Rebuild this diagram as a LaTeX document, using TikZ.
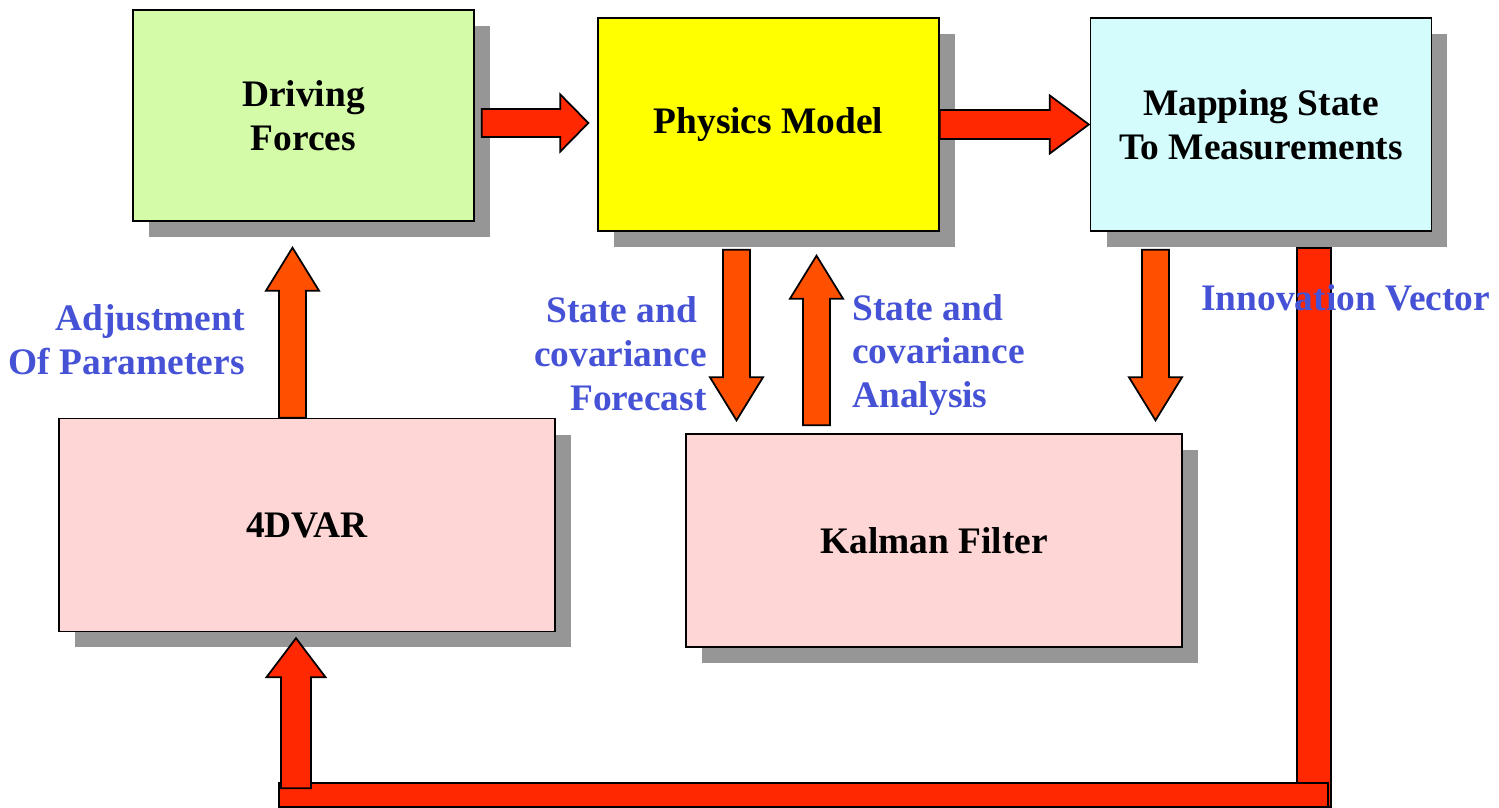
\documentclass[tikz,border=0pt]{standalone}
\usepackage{fontspec}
\setmainfont{Liberation Serif}
\usepackage{tikz}
\usetikzlibrary{positioning,calc,shadows}
\usepackage{xcolor}
\definecolor{forceGreen}{RGB}{212,252,168}
\definecolor{modelYellow}{RGB}{255,255,0}
\definecolor{mapCyan}{RGB}{212,252,252}
\definecolor{filterPink}{RGB}{255,214,214}
\definecolor{shadowGray}{RGB}{150,150,150}
\definecolor{flowRed}{RGB}{255,40,0}
\definecolor{flowOrange}{RGB}{255,80,0}
\definecolor{labelBlue}{RGB}{70,82,214}

\newcommand{\boxfont}{\fontsize{21.3}{25}\selectfont\bfseries}
% block arrow: [colour]{from}{to}{half shaft}{half head}{head length}
\newcommand{\blockarrow}[6][flowOrange]{%
  \coordinate (hb) at ($(#3)!#6!(#2)$);
  \draw[fill=#1, line width=1pt, line join=miter]
    ($(#2)!#4!90:(#3)$) -- ($(hb)!#4!90:(#3)$) -- ($(hb)!#5!90:(#3)$)
    -- (#3) -- ($(hb)!#5!-90:(#3)$) -- ($(hb)!#4!-90:(#3)$)
    -- ($(#2)!#4!-90:(#3)$) -- cycle;}

\begin{document}
\begin{tikzpicture}[
  x=0.02cm, y=-0.02cm,
  box/.style={rectangle, draw=black, line width=0.8pt, fill=#1,
              minimum width=6.82cm, minimum height=4.26cm,
              align=center, font=\boxfont,
              drop shadow={shadow xshift=0.32cm, shadow yshift=-0.32cm,
                           fill=shadowGray, opacity=1}},
  wide/.style={minimum width=9.92cm},
  lbl/.style={font=\boxfont, text=labelBlue, inner sep=0pt},
  bar/.style={draw=black, line width=1pt, fill=flowRed}
]
  \useasboundingbox (0,0) rectangle (1499,808);

  % Boxes
  \node[box=forceGreen, minimum height=4.22cm] (drive) at (303.5,115.5)
    {Driving\\Forces};
  \node[box=modelYellow] (phys) at (768.5,124.5) {Physics Model};
  \node[box=mapCyan] (map) at (1261,124.5)
    {Mapping State\\To Measurements};
  \node[box=filterPink, wide] (fdvar) at (307,525) {4DVAR};
  \node[box=filterPink, wide] (kalman) at (934,540.5) {Kalman Filter};

  % Arrow ends
  \coordinate (dfA) at ($(drive.east |- phys.west)+(7,-1.5)$);
  \coordinate (dfB) at ($(phys.west)+(-9,-1.5)$);
  \coordinate (pmA) at (phys.east);
  \coordinate (pmB) at ($(map.west)+(-1,0)$);
  \coordinate (fcA) at ($(phys.south)+(-32,18)$);
  \coordinate (fcB) at ($(kalman.north -| fcA)+(0,-13)$);
  \coordinate (anA) at ($(kalman.north -| phys.south)+(48,-8)$);
  \coordinate (anB) at ($(phys.south)+(48,24)$);
  \coordinate (inA) at ($(map.south)+(-105.5,18)$);
  \coordinate (inB) at ($(kalman.north -| inA)+(0,-13)$);
  \coordinate (adA) at ($(fdvar.north)+(-14.5,0)$);
  \coordinate (adB) at ($(drive.south -| adA)+(0,26)$);
  \coordinate (lpA) at ($(fdvar.south)+(-11,156)$);
  \coordinate (lpB) at ($(fdvar.south)+(-11,6)$);

  % Horizontal flow
  \blockarrow[flowRed]{dfA}{dfB}{0.28cm}{0.57cm}{0.56cm}
  \blockarrow[flowRed]{pmA}{pmB}{0.29cm}{0.58cm}{0.78cm}

  % Vertical flow
  \foreach \a/\b in {fcA/fcB, anA/anB, inA/inB, adA/adB}
    {\blockarrow{\a}{\b}{0.27cm}{0.53cm}{0.86cm}}

  % Innovation loop back to 4DVAR
  \draw[bar] ($(map.south)+(36,16)$) rectangle ($(map.south)+(70,575)$);
  \draw[bar] ($(fdvar.south)+(-28,151)$) rectangle ($(map.south)+(67,575)$);
  \blockarrow[flowRed]{lpA}{lpB}{0.30cm}{0.59cm}{0.78cm}

  % Labels
  \node[lbl, align=right, anchor=east] (adjLbl) at (245,340)
    {Adjustment\\Of Parameters};
  \node[lbl, align=right, anchor=east] (fcLbl) at (707,354)
    {State and\kern0.25em\\covariance\\Forecast};
  \node[lbl, align=left, anchor=west] (anLbl) at (852,355)
    {State and\\covariance\\Analysis};
  \node[lbl, anchor=west] (inLbl) at (1201,298) {Innovation Vector};
\end{tikzpicture}
\end{document}
